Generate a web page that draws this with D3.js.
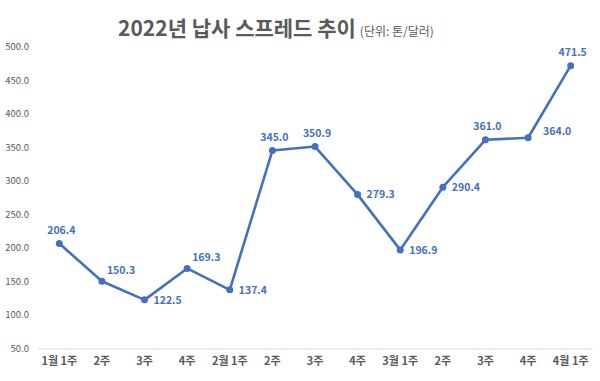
<!DOCTYPE html>
<html>
<head>
<meta charset="utf-8">
<script src="https://cdn.jsdelivr.net/npm/d3@7"></script>
<style>
  body { margin: 0; background: #fff; }
  text { font-family: "Noto Sans CJK KR", "Noto Sans", sans-serif; }
</style>
</head>
<body>
<div id="chart"></div>
<script>
var weeks = ["1월 1주", "2주", "3주", "4주", "2월 1주", "2주", "3주", "4주", "3월 1주", "2주", "3주", "4주", "4월 1주"];
var spread = [206.4, 150.3, 122.5, 169.3, 137.4, 345.0, 350.9, 279.3, 196.9, 290.4, 361.0, 364.0, 471.5];
var yTicks = [50, 100, 150, 200, 250, 300, 350, 400, 450, 500];
// where each data label sits relative to its point
var labelSide = ["up", "upright", "right", "upright", "right", "up", "up", "right", "right", "right", "up", "rightup", "up"];

var width = 600, height = 381;
var blue = "#4470c0";

var svg = d3.select("#chart")
  .append("svg")
    .attr("width", width)
    .attr("height", height);

// title
var title = svg.append("text")
  .attr("x", 276)
  .attr("y", 36)
  .attr("text-anchor", "middle");
title.append("tspan")
  .attr("font-size", "21px")
  .attr("font-weight", "bold")
  .attr("fill", "#595959")
  .text("2022년 납사 스프레드 추이");
title.append("tspan")
  .attr("font-size", "12px")
  .attr("fill", "#595959")
  .attr("dx", 4)
  .text("(단위: 톤/달러)");

var x = d3.scaleBand()
  .domain(d3.range(weeks.length))
  .range([38, 592]);

var y = d3.scaleLinear()
  .domain([50, 500])
  .range([348.5, 46.5]);

// y-axis labels, no line or ticks
svg.append("g")
  .attr("transform", "translate(29,0)")
  .call(d3.axisLeft(y).tickValues(yTicks).tickFormat(d3.format(".1f")).tickSize(0).tickPadding(0))
  .call(function(g) { g.select(".domain").remove(); })
  .selectAll("text")
    .attr("font-family", "'Noto Sans CJK KR', sans-serif")
    .attr("font-size", "9.5px")
    .attr("fill", "#595959");

// x-axis
svg.append("g")
  .attr("transform", "translate(0," + y(50) + ")")
  .call(d3.axisBottom(x).tickFormat(function(i) { return weeks[i]; }).tickSize(0).tickPadding(9))
  .call(function(g) { g.select(".domain").attr("stroke", "#d9d9d9"); })
  .selectAll("text")
    .attr("font-family", "'Noto Sans CJK KR', sans-serif")
    .attr("font-size", "11px")
    .attr("font-weight", "bold")
    .attr("fill", "#595959");

var cx = function(d, i) { return x(i) + x.bandwidth() / 2; };

var line = d3.line()
  .x(function(d, i) { return cx(d, i); })
  .y(function(d) { return y(d); });

svg.append("path")
  .datum(spread)
  .attr("fill", "none")
  .attr("stroke", blue)
  .attr("stroke-width", 2.6)
  .attr("stroke-linejoin", "round")
  .attr("d", line);

svg.append("g")
  .selectAll("circle")
  .data(spread)
  .enter()
  .append("circle")
    .attr("cx", cx)
    .attr("cy", function(d) { return y(d); })
    .attr("r", 3.5)
    .attr("fill", blue);

var offsets = {
  up: { dx: 2, dy: -13, anchor: "middle" },
  upright: { dx: 5, dy: -11, anchor: "start" },
  right: { dx: 9, dy: 0, anchor: "start" },
  rightup: { dx: 15, dy: -6, anchor: "start" }
};

svg.append("g")
  .selectAll("text")
  .data(spread)
  .enter()
  .append("text")
    .attr("x", function(d, i) { return cx(d, i) + offsets[labelSide[i]].dx; })
    .attr("y", function(d, i) { return y(d) + offsets[labelSide[i]].dy; })
    .attr("dy", "0.35em")
    .attr("text-anchor", function(d, i) { return offsets[labelSide[i]].anchor; })
    .attr("font-size", "10.5px")
    .attr("font-weight", "bold")
    .attr("fill", blue)
    .text(function(d) { return d.toFixed(1); });
</script>
</body>
</html>
